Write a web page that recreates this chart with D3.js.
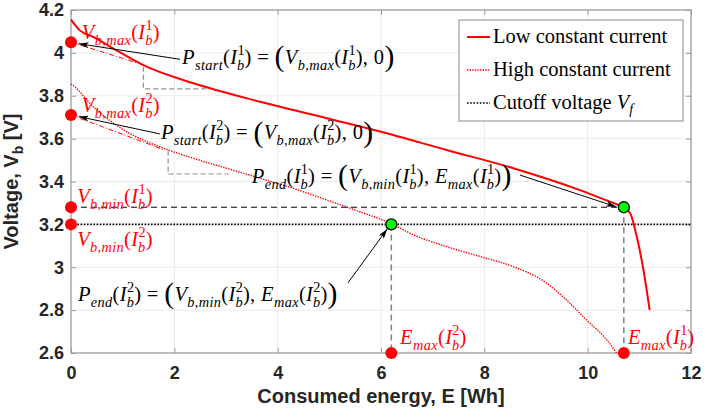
<!DOCTYPE html>
<html><head><meta charset="utf-8">
<script src="https://cdn.jsdelivr.net/npm/d3@7"></script>
<style>body{margin:0;background:#fff}svg{display:block}</style>
</head><body><svg id="c" width="706" height="413"></svg>
<script>
// ---- data ----
const xTicks = [0, 2, 4, 6, 8, 10, 12];
const yTicks = [2.6, 2.8, 3.0, 3.2, 3.4, 3.6, 3.8, 4.0, 4.2];
const yTickLabels = ["2.6", "2.8", "3", "3.2", "3.4", "3.6", "3.8", "4", "4.2"];
const lowE = [0, 0.17, 0.43, 0.82, 1.40, 2.37, 3.66, 4.95, 6.0, 7.27, 8.56, 9.85, 10.43, 10.6, 10.7, 10.82, 10.95, 11.08, 11.2];
const lowV = [4.155, 4.105, 4.075, 4.02, 3.943, 3.858, 3.772, 3.695, 3.632, 3.547, 3.462, 3.36, 3.306, 3.29, 3.275, 3.253, 3.143, 2.987, 2.80];
const highE = [0, 0.03, 0.43, 1.08, 1.72, 2.37, 3.01, 3.66, 4.30, 4.95, 5.59, 6.2, 6.63, 7.27, 7.92, 8.56, 9.21, 9.59, 9.98, 10.37, 10.56];
const highV = [3.855, 3.85, 3.749, 3.632, 3.562, 3.508, 3.462, 3.415, 3.368, 3.314, 3.259, 3.203, 3.151, 3.096, 3.05, 3.003, 2.925, 2.847, 2.754, 2.661, 2.60];
const cutoffV = 3.2;
const vbmax = [4.05, 3.71];   // I1, I2
const vbmin = [3.28, 3.2];
const emax = [10.7, 6.2];
const legendLabels = ["Low constant current", "High constant current", "Cutoff voltage "];

// ---- layout ----
const svg = d3.select("#c");
const x = d3.scaleLinear().domain([0, 12]).range([71, 691]);
const y = d3.scaleLinear().domain([2.6, 4.2]).range([353, 10]);
const L = 71, R = 691, T = 10, B = 353;
const RED = "#ff0000";
const SANS = "'Liberation Sans', Arial, sans-serif";
const SERIF = "'Liberation Serif', 'Times New Roman', serif";

// grid
const g0 = svg.append("g");
g0.selectAll("line.gx").data(xTicks).join("line")
  .attr("x1", d => x(d)).attr("x2", d => x(d)).attr("y1", T).attr("y2", B)
  .attr("stroke", "#ebebeb").attr("stroke-width", 1);
g0.selectAll("line.gy").data(yTicks).join("line")
  .attr("y1", d => y(d)).attr("y2", d => y(d)).attr("x1", L).attr("x2", R)
  .attr("stroke", "#ebebeb").attr("stroke-width", 1);

// axes
function styleAxis(g) {
  g.select(".domain").remove();
  g.selectAll(".tick line").attr("stroke", "#9a9a9a");
  g.selectAll(".tick text").attr("font-family", SANS).attr("font-weight", "bold")
    .attr("font-size", 18).attr("fill", "#262626");
}
svg.append("g").attr("transform", `translate(0,${B})`)
  .call(d3.axisBottom(x).tickValues(xTicks).tickFormat(d3.format("d")).tickSizeInner(-5).tickSizeOuter(0).tickPadding(13))
  .call(styleAxis);
svg.append("g").attr("transform", `translate(0,${T})`)
  .call(d3.axisTop(x).tickValues(xTicks).tickFormat("").tickSizeInner(-5).tickSizeOuter(0))
  .call(styleAxis);
svg.append("g").attr("transform", `translate(${L},0)`)
  .call(d3.axisLeft(y).tickValues(yTicks).tickFormat((d, i) => yTickLabels[i]).tickSizeInner(-5).tickSizeOuter(0).tickPadding(7))
  .call(styleAxis);
svg.append("g").attr("transform", `translate(${R},0)`)
  .call(d3.axisRight(y).tickValues(yTicks).tickFormat("").tickSizeInner(-5).tickSizeOuter(0))
  .call(styleAxis);
svg.append("rect").attr("x", L).attr("y", T).attr("width", R - L).attr("height", B - T)
  .attr("fill", "none").attr("stroke", "#9a9a9a").attr("stroke-width", 1.2);

// axis titles
svg.append("text").attr("x", (L + R) / 2).attr("y", 403).attr("text-anchor", "middle")
  .attr("font-family", SANS).attr("font-weight", "bold").attr("font-size", 20).attr("fill", "#262626")
  .text("Consumed energy, E [Wh]");
const yl = svg.append("text").attr("transform", `translate(18,${(T + B) / 2}) rotate(-90)`)
  .attr("text-anchor", "middle").attr("font-family", SANS).attr("font-weight", "bold")
  .attr("font-size", 20).attr("fill", "#262626");
yl.append("tspan").text("Voltage, V");
yl.append("tspan").attr("font-size", 14).attr("dy", 5).text("b");
yl.append("tspan").attr("dy", -5).text(" [V]");

// arrow marker
svg.append("defs").append("marker").attr("id", "ah").attr("viewBox", "0 0 10 6")
  .attr("refX", 10).attr("refY", 3).attr("markerWidth", 10).attr("markerHeight", 6)
  .attr("markerUnits", "userSpaceOnUse").attr("orient", "auto")
  .append("path").attr("d", "M0,0 L10,3 L0,6 L2.5,3 Z").attr("fill", "#000");

// helper lines
const line = d3.line().x(d => x(d[0])).y(d => y(d[1]));
svg.append("path").attr("d", line([[0, vbmin[0]], [emax[0], vbmin[0]]]))
  .attr("stroke", "#000").attr("stroke-width", 1).attr("stroke-dasharray", "6,4").attr("fill", "none");
[[emax[0], vbmin[0]], [emax[1], vbmin[1]]].forEach(p => {
  svg.append("path").attr("d", line([[p[0], p[1]], [p[0], 2.6]]))
    .attr("stroke", "#808080").attr("stroke-width", 1.5).attr("stroke-dasharray", "6,4").attr("fill", "none");
});
const tri1 = [[1.40, 3.935], [1.40, 3.832], [2.69, 3.832]];
const tri2 = [[1.88, 3.545], [1.88, 3.435], [3.05, 3.435]];
[tri1, tri2].forEach(t => svg.append("path").attr("d", line(t)).attr("fill", "none")
  .attr("stroke", "#909090").attr("stroke-width", 1.2).attr("stroke-dasharray", "5,3"));
const tan1 = [[0, vbmax[0]], [1.3, 3.952]];
const tan2 = [[0, vbmax[1]], [1.8, 3.548]];
[tan1, tan2].forEach(t => svg.append("path").attr("d", line(t)).attr("fill", "none")
  .attr("stroke", RED).attr("stroke-width", 1).attr("stroke-dasharray", "5,2,1,2"));

svg.append("path").attr("d", line([[0, cutoffV], [12, cutoffV]]))
  .attr("stroke", "#000").attr("stroke-width", 1.6).attr("stroke-dasharray", "1.6,1.6").attr("fill", "none");

// curves
const cl = d3.line().x(d => x(d[0])).y(d => y(d[1])).curve(d3.curveMonotoneX);
svg.append("path").attr("d", cl(lowE.map((e, i) => [e, lowV[i]])))
  .attr("fill", "none").attr("stroke", RED).attr("stroke-width", 2);
svg.append("path").attr("d", cl(highE.map((e, i) => [e, highV[i]])))
  .attr("fill", "none").attr("stroke", RED).attr("stroke-width", 1.4).attr("stroke-dasharray", "1.4,1.2");

// arrows
const arrows = [
  [[2.11, 3.97], [0.15, 4.043]],
  [[1.72, 3.622], [0.15, 3.703]],
  [[8.69, 3.43], [10.55, 3.282]],
  [[5.36, 2.927], [6.12, 3.178]]
];
arrows.forEach(a => svg.append("path").attr("d", line(a)).attr("stroke", "#000")
  .attr("stroke-width", 1).attr("fill", "none").attr("marker-end", "url(#ah)"));

// dots
const redDots = [[0, vbmax[0]], [0, vbmax[1]], [0, vbmin[0]], [0, vbmin[1]], [emax[1], 2.6], [emax[0], 2.6]];
svg.selectAll("circle.r").data(redDots).join("circle")
  .attr("cx", d => x(d[0])).attr("cy", d => y(d[1])).attr("r", 6).attr("fill", RED);
const greenDots = [[emax[0], vbmin[0]], [emax[1], vbmin[1]]];
svg.selectAll("circle.g").data(greenDots).join("circle")
  .attr("cx", d => x(d[0])).attr("cy", d => y(d[1])).attr("r", 5.5)
  .attr("fill", "#00ff00").attr("stroke", "#000").attr("stroke-width", 1.3);

// math text helper
function mathText(px, py, parts, fs, color) {
  const t = svg.append("text").attr("x", px).attr("y", py).attr("font-family", SERIF)
    .attr("font-size", fs).attr("fill", color).attr("letter-spacing", 0.35);
  let cur = 0;
  const go = v => { const d = v - cur; cur = v; return d; };
  const s = fs * 0.7;
  parts.forEach(p => {
    const k = p[0];
    if (k === "i") t.append("tspan").attr("font-style", "italic").attr("dy", go(0)).text(p[1]);
    else if (k === "r") t.append("tspan").attr("dy", go(0)).text(p[1]);
    else if (k === "big") t.append("tspan").attr("font-size", fs * 1.45).attr("dy", go(fs * 0.12)).text(p[1]);
    else if (k === "sub") t.append("tspan").attr("font-style", "italic").attr("font-size", s).attr("dy", go(fs * 0.3)).text(p[1]);
    else if (k === "ss") {
      t.append("tspan").attr("font-size", s).attr("dy", go(-fs * 0.42)).text(p[2]);
      t.append("tspan").attr("font-style", "italic").attr("font-size", s).attr("dx", -s * 0.55).attr("dy", go(fs * 0.3)).text(p[1]);
    }
  });
  return t;
}
const I = n => [["i", "I"], ["ss", "b", n]];
const FS = 20.5;
const EQ = ") = ";
mathText(x(0.21), y(4.065), [["i", "V"], ["sub", "b,max"], ["r", "("], ...I("1"), ["r", ")"]], FS, RED);
mathText(x(0.21), y(3.724), [["i", "V"], ["sub", "b,max"], ["r", "("], ...I("2"), ["r", ")"]], FS, RED);
mathText(x(0.12), y(3.30), [["i", "V"], ["sub", "b,min"], ["r", "("], ...I("1"), ["r", ")"]], FS, RED);
mathText(x(0.12), y(3.10), [["i", "V"], ["sub", "b,min"], ["r", "("], ...I("2"), ["r", ")"]], FS, RED);
mathText(x(6.37), y(2.642), [["i", "E"], ["sub", "max"], ["r", "("], ...I("2"), ["r", ")"]], FS, RED);
mathText(x(10.78), y(2.642), [["i", "E"], ["sub", "max"], ["r", "("], ...I("1"), ["r", ")"]], FS, RED);
const K = "#000";
mathText(x(2.15), y(3.948), [["i", "P"], ["sub", "start"], ["r", "("], ...I("1"), ["r", EQ], ["big", "("],
  ["i", "V"], ["sub", "b,max"], ["r", "("], ...I("1"), ["r", "), 0"], ["big", ")"]], FS, K);
mathText(x(1.74), y(3.598), [["i", "P"], ["sub", "start"], ["r", "("], ...I("2"), ["r", EQ], ["big", "("],
  ["i", "V"], ["sub", "b,max"], ["r", "("], ...I("2"), ["r", "), 0"], ["big", ")"]], FS, K);
mathText(x(3.50), y(3.393), [["i", "P"], ["sub", "end"], ["r", "("], ...I("1"), ["r", EQ], ["big", "("],
  ["i", "V"], ["sub", "b,min"], ["r", "("], ...I("1"), ["r", "), "], ["i", "E"], ["sub", "max"], ["r", "("], ...I("1"), ["r", ")"], ["big", ")"]], FS, K);
mathText(x(0.135), y(2.843), [["i", "P"], ["sub", "end"], ["r", "("], ...I("2"), ["r", EQ], ["big", "("],
  ["i", "V"], ["sub", "b,min"], ["r", "("], ...I("2"), ["r", "), "], ["i", "E"], ["sub", "max"], ["r", "("], ...I("2"), ["r", ")"], ["big", ")"]], FS, K);

// legend
const lg = svg.append("g");
lg.append("rect").attr("x", 459).attr("y", 20).attr("width", 224).attr("height", 101)
  .attr("fill", "#fff").attr("stroke", "#8a8a8a").attr("stroke-width", 1);
const legStyles = [
  { c: RED, w: 2, da: null },
  { c: RED, w: 1.4, da: "1.4,1.2" },
  { c: "#000", w: 1.6, da: "1.6,1.6" }
];
const rowsY = [37, 70, 103];
legendLabels.forEach((lab, i) => {
  lg.append("line").attr("x1", 467).attr("x2", 490).attr("y1", rowsY[i]).attr("y2", rowsY[i])
    .attr("stroke", legStyles[i].c).attr("stroke-width", legStyles[i].w)
    .attr("stroke-dasharray", legStyles[i].da);
  const t = lg.append("text").attr("x", 493).attr("y", rowsY[i] + 6).attr("font-family", SERIF)
    .attr("font-size", 20.5).attr("fill", "#000");
  t.append("tspan").text(lab);
  if (i === 2) {
    t.append("tspan").attr("font-style", "italic").text("V");
    t.append("tspan").attr("font-style", "italic").attr("font-size", 14).attr("dy", 5).text("f");
  }
});
</script></body></html>
